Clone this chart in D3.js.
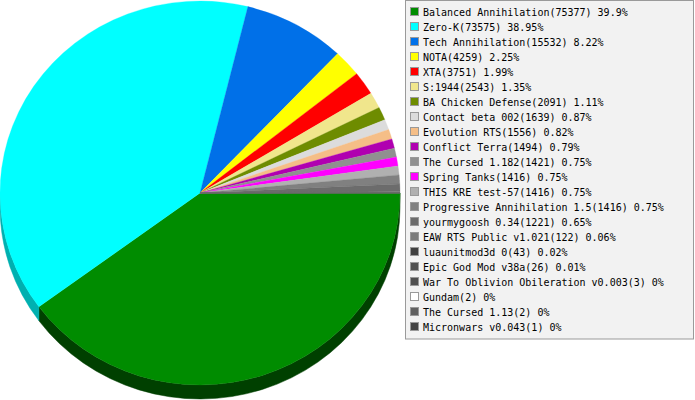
<!DOCTYPE html>
<html>
<head>
<meta charset="utf-8">
<script src="https://cdn.jsdelivr.net/npm/d3@7"></script>
<style>
  html, body { margin: 0; padding: 0; background: #fff; }
  svg { display: block; }
</style>
</head>
<body>
<svg id="chart" width="695" height="400"></svg>
<script>
const names = [
  "Balanced Annihilation", "Zero-K", "Tech Annihilation", "NOTA", "XTA", "S:1944",
  "BA Chicken Defense", "Contact beta 002", "Evolution RTS", "Conflict Terra",
  "The Cursed 1.182", "Spring Tanks", "THIS KRE test-57", "Progressive Annihilation 1.5",
  "yourmygoosh 0.34", "EAW RTS Public v1.021", "luaunitmod3d 0", "Epic God Mod v38a",
  "War To Oblivion Obileration v0.003", "Gundam", "The Cursed 1.13", "Micronwars v0.043"
];
const counts = [75377, 73575, 15532, 4259, 3751, 2543, 2091, 1639, 1556, 1494, 1421, 1416,
  1416, 1416, 1221, 122, 43, 26, 3, 2, 2, 1];
const percentLabels = ["39.9%", "38.95%", "8.22%", "2.25%", "1.99%", "1.35%", "1.11%", "0.87%",
  "0.82%", "0.79%", "0.75%", "0.75%", "0.75%", "0.75%", "0.65%", "0.06%", "0.02%", "0.01%",
  "0%", "0%", "0%", "0%"];
const colors = ["#008c00", "#00ffff", "#0070e8", "#ffff00", "#ff0000", "#f0e68c", "#6e8c00",
  "#dcdcdc", "#f5be87", "#b000b0", "#909090", "#ff00ff", "#b0b0b0", "#808080", "#6c6c6c",
  "#7c7c7c", "#404040", "#505050", "#505050", "#ffffff", "#606060", "#444444"];
const sideColors = ["#004000", "#00b0b0"];

const svg = d3.select("#chart");
const cx = 200, cy = 193, rx = 200, ry = 192, depth = 14;
const k = ry / rx;

const data = names.map((n, i) => ({ name: n, count: counts[i], pct: percentLabels[i], color: colors[i], i }));
const pie = d3.pie().value(d => d.count).sort(null).startAngle(Math.PI / 2).endAngle(Math.PI / 2 + 2 * Math.PI);
const arcs = pie(data);

const g = svg.append("g").attr("transform", `translate(${cx},${cy}) scale(1,${k})`);
const dScaled = depth / k;

// side walls (front half: screen angle 0..PI)
arcs.forEach(a => {
  let t0 = a.startAngle - Math.PI / 2, t1 = a.endAngle - Math.PI / 2;
  t0 = Math.max(t0, 0); t1 = Math.min(t1, Math.PI);
  if (t1 <= t0) return;
  const p = d3.path();
  p.moveTo(rx * Math.cos(t0), rx * Math.sin(t0));
  p.arc(0, 0, rx, t0, t1, false);
  p.lineTo(rx * Math.cos(t1), rx * Math.sin(t1) + dScaled);
  p.arc(0, dScaled, rx, t1, t0, true);
  p.closePath();
  const sc = sideColors[a.data.i] || d3.color(a.data.color).darker(1).formatHex();
  g.append("path").attr("d", p.toString()).attr("fill", sc).attr("stroke", sc).attr("stroke-width", 0.5);
});

const arcGen = d3.arc().innerRadius(0).outerRadius(rx);
g.selectAll("path.slice").data(arcs).join("path")
  .attr("class", "slice")
  .attr("d", arcGen)
  .attr("fill", d => d.data.color)
  .attr("stroke", d => d.data.color)
  .attr("stroke-width", 0.3);

// legend
const lg = svg.append("g");
lg.append("rect").attr("x", 405.5).attr("y", 0.5).attr("width", 288).attr("height", 338.5)
  .attr("fill", "#f2f2f2").attr("stroke", "#9a9a9a").attr("stroke-width", 1);

const rows = lg.selectAll("g.row").data(data).join("g").attr("class", "row")
  .attr("transform", (d, i) => `translate(0,${12 + i * 15})`);
rows.append("rect").attr("x", 410.5).attr("y", -4.5).attr("width", 8).attr("height", 8)
  .attr("fill", d => d.color).attr("stroke", "#999").attr("stroke-width", 1);
rows.append("text").attr("x", 423).attr("y", 4)
  .attr("font-family", "DejaVu Sans Mono, monospace").attr("font-size", "10px").attr("fill", "#000")
  .text(d => `${d.name}(${d.count}) ${d.pct}`);
</script>
</body>
</html>
